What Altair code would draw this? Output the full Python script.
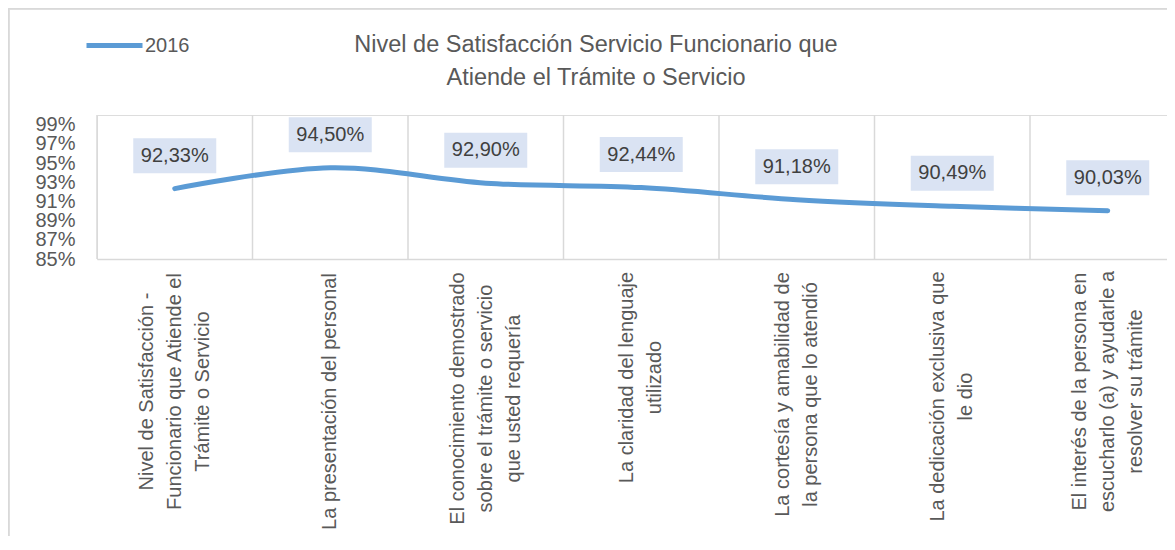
import altair as alt
import pandas as pd

categories = [
    "Nivel de Satisfacción -|Funcionario que Atiende el|Trámite o Servicio",
    "La presentación del personal",
    "El conocimiento demostrado|sobre el trámite o servicio|que usted requería",
    "La claridad del lenguaje|utilizado",
    "La cortesía y amabilidad de|la persona que lo atendió",
    "La dedicación exclusiva que|le dio",
    "El interés de la persona en|escucharlo (a) y ayudarle a|resolver su trámite",
]
values = [0.9233, 0.9450, 0.9290, 0.9244, 0.9118, 0.9049, 0.9003]
series = ["2016"] * len(categories)
y_ticks = [0.85, 0.87, 0.89, 0.91, 0.93, 0.95, 0.97, 0.99]
title_lines = ["Nivel de Satisfacción Servicio Funcionario que", "Atiende el Trámite o Servicio"]

FONT = "Liberation Sans Narrow, Arial Narrow, Liberation Sans, Arial, sans-serif"
GRAY = "#595959"
GRID = "#D9D9D9"
BLUE = "#5B9BD5"
FS = 20
LH = 28

df = pd.DataFrame({"cat": categories, "value": values, "serie": series})
title_df = pd.DataFrame({"t": [0]})

STEP = 155.5
PW = STEP * len(categories)
H = 144

xscale = alt.Scale(type="band", range=[0, PW], paddingInner=0, paddingOuter=0)

# centre the multi-line block of each rotated label on its category
nlines = "length(split(datum.value, '|'))"
label_offset = {
    "condition": [
        {"test": f"{nlines} == 3", "value": -LH},
        {"test": f"{nlines} == 2", "value": -LH / 2},
    ],
    "value": 0,
}
# distance from axis to label centre: longest line starts just below the axis
pad_style = [132, 142, 139, 118, 135, 137, 132]
label_padding = {
    "condition": [
        {"test": "datum.value === " + repr(c), "value": p}
        for c, p in zip(categories, pad_style)
    ],
    "value": 132,
}

x_axis = alt.Axis(
    title=None, labelAngle=-90, labelAlign="center", labelBaseline="middle",
    labelPadding=label_padding, labelOffset=label_offset,
    labelExpr="split(datum.label, '|')", labelFont=FONT,
    labelFontSize=FS, labelColor=GRAY, labelLineHeight=LH, ticks=False,
    domainColor=GRID, domainWidth=1.5, grid=False, labelLimit=0,
)
y_axis = alt.Axis(
    title=None, values=y_ticks, format=".0%", grid=False, ticks=False, domain=False,
    labelFont=FONT, labelFontSize=FS, labelColor=GRAY, labelPadding=22,
    labelOverlap=False, labelFlush=False,
)
yenc = alt.Y("value:Q", scale=alt.Scale(domain=[0.85, 1.0], nice=False, zero=False), axis=y_axis)

base = alt.Chart(df)

grid = base.mark_rule(color=GRID, strokeWidth=1.5).encode(
    x=alt.X("cat:N", sort=None, scale=xscale, bandPosition=0, axis=x_axis),
    y=alt.value(0), y2=alt.value(H),
)

line = base.mark_line(interpolate="catmull-rom", strokeWidth=5, strokeCap="round").encode(
    x=alt.X("cat:N", sort=None, scale=xscale),
    y=yenc,
    color=alt.Color(
        "serie:N",
        scale=alt.Scale(domain=["2016"], range=[BLUE]),
        legend=alt.Legend(
            title=None, orient="none", legendX=-13, legendY=-100, symbolType="stroke",
            symbolSize=3136, symbolStrokeWidth=5, labelFont=FONT, labelFontSize=FS,
            labelColor=GRAY, labelOffset=0, padding=0,
        ),
    ),
)

boxes = base.mark_point(
    shape="M-1,-0.4217H1V0.4217H-1Z", size=6889, filled=True, color="#DAE3F3",
    opacity=1, strokeWidth=0, yOffset=-33,
).encode(x=alt.X("cat:N", sort=None, scale=xscale), y=yenc)

labels = base.transform_calculate(
    lab="replace(format(datum.value, '.2%'), '.', ',')"
).mark_text(
    yOffset=-33, font=FONT, fontSize=FS, color="#404040", baseline="middle", align="center",
).encode(x=alt.X("cat:N", sort=None, scale=xscale), y=yenc, text="lab:N")

title = alt.Chart(title_df).mark_text(
    font=FONT, fontSize=23.5, color=GRAY, align="center", baseline="alphabetic", lineHeight=33,
).encode(x=alt.value(499), y=alt.value(-63), text=alt.value(title_lines))

frame_left = base.mark_rule(color=GRID, strokeWidth=1.5).encode(
    x=alt.value(-88.5), y=alt.value(-106.5), y2=alt.value(440)
)
frame_top = base.mark_rule(color=GRID, strokeWidth=1.5).encode(
    x=alt.value(-88.5), x2=alt.value(1100), y=alt.value(-106.5)
)

chart = alt.layer(frame_left, frame_top, grid, line, boxes, labels, title).properties(
    width=1070, height=H,
    padding={"left": 89, "top": 107, "right": 0, "bottom": 277},
    autosize=alt.AutoSizeParams(type="none"),
).configure_view(stroke=None).configure(background="white")

chart.save("out.html", embed_options={"renderer": "svg", "actions": False})
